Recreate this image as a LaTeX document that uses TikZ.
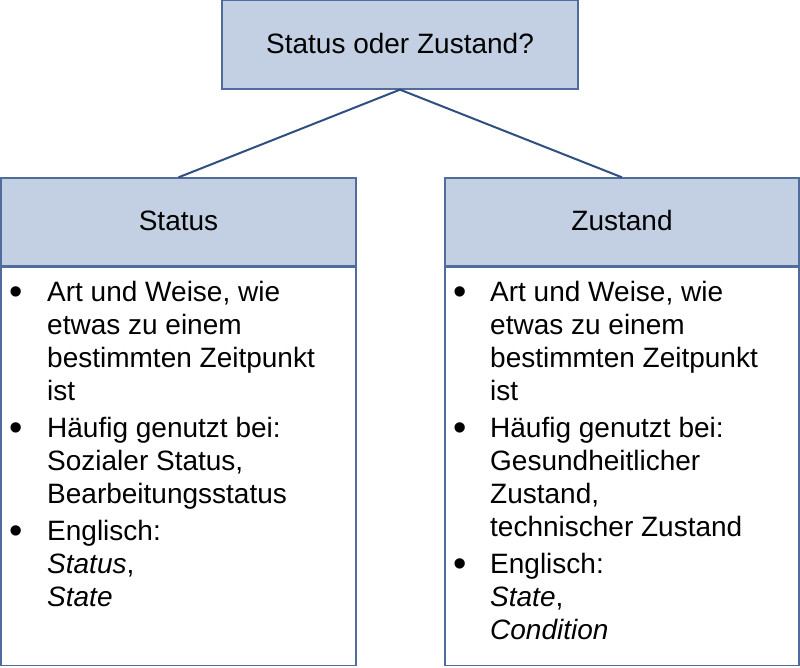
\documentclass[tikz,border=0pt]{standalone}
\usepackage{fontspec}
\setmainfont{Liberation Sans}
\definecolor{boxfill}{HTML}{C3D0E3}
\definecolor{boxline}{HTML}{4F6C9C}
\definecolor{conline}{HTML}{2F4F82}
\begin{document}
\begin{tikzpicture}[x=1pt,y=-1pt,
  box/.style={draw=boxline,line width=1.3pt,rectangle,inner sep=0pt},
  headbox/.style={box,fill=boxfill,font=\fontsize{28}{33}\selectfont,text height=20pt,text depth=3.5pt},
  bodybox/.style={box,fill=white},
  conn/.style={draw=conline,line width=2pt},
  line/.style={anchor=base west,inner sep=0pt,font=\fontsize{28}{33}\selectfont},
  bul/.style={anchor=base,inner sep=0pt,font=\fontsize{38}{33}\selectfont,yshift=-3pt}]
\useasboundingbox (0,0) rectangle (800,667);
% boxes
\node[headbox,minimum width=356pt,minimum height=88.5pt] (top) at (400,44.75) {Status oder Zustand?};
\node[headbox,minimum width=355pt,minimum height=88pt] (lhead) at (178.5,222) {Status};
\node[headbox,minimum width=354pt,minimum height=88pt] (rhead) at (622,222) {Zustand};
\node[bodybox,minimum width=355pt,minimum height=398pt,anchor=north] (lbody) at (lhead.south) {};
\node[bodybox,minimum width=354pt,minimum height=398pt,anchor=north] (rbody) at (rhead.south) {};
% connectors
\draw[conn] (top.south) -- (lhead.north);
\draw[conn] (top.south) -- (rhead.north);
% left body
\node[bul] (lb1) at (16,301) {•};
\node[bul] (lb2) at (16,437) {•};
\node[bul] (lb3) at (16,540) {•};
\node[line] (l1) at (47,301) {Art und Weise, wie};
\node[line] (l2) at (47,334) {etwas zu einem};
\node[line] (l3) at (47,367) {bestimmten Zeitpunkt};
\node[line] (l4) at (47,400) {ist};
\node[line] (l5) at (47,437) {Häufig genutzt bei:};
\node[line] (l6) at (47,470) {Sozialer Status,};
\node[line] (l7) at (47,503) {Bearbeitungsstatus};
\node[line] (l8) at (47,540) {Englisch:};
\node[line] (l9) at (47,573) {\textit{Status},};
\node[line] (l10) at (47,606) {\textit{State}};
% right body
\node[bul] (rb1) at (460,301) {•};
\node[bul] (rb2) at (460,437) {•};
\node[bul] (rb3) at (460,573) {•};
\node[line] (r1) at (490,301) {Art und Weise, wie};
\node[line] (r2) at (490,334) {etwas zu einem};
\node[line] (r3) at (490,367) {bestimmten Zeitpunkt};
\node[line] (r4) at (490,400) {ist};
\node[line] (r5) at (490,437) {Häufig genutzt bei:};
\node[line] (r6) at (490,470) {Gesundheitlicher};
\node[line] (r7) at (490,503) {Zustand,};
\node[line] (r8) at (490,536) {technischer Zustand};
\node[line] (r9) at (490,573) {Englisch:};
\node[line] (r10) at (490,606) {\textit{State},};
\node[line] (r11) at (490,639) {\textit{Condition}};
\end{tikzpicture}
\end{document}
